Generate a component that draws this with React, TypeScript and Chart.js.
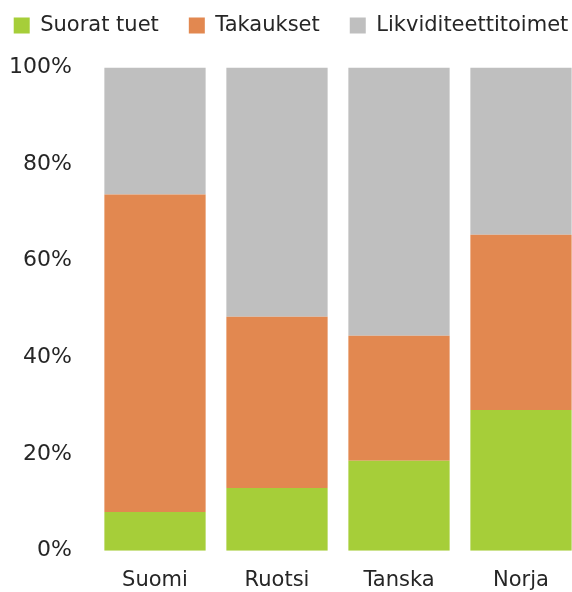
import React, { useEffect, useRef } from 'react';
import { Chart, registerables } from 'chart.js';

Chart.register(...registerables);

const categories = ['Suomi', 'Ruotsi', 'Tanska', 'Norja'];
const seriesNames = ['Suorat tuet', 'Takaukset', 'Likviditeettitoimet'];
const suoratTuet = [8.0, 13.0, 18.6, 29.1];
const takaukset = [65.7, 35.4, 25.9, 36.3];
const likviditeettitoimet = [26.3, 51.6, 55.5, 34.6];
const seriesColors = ['#A6CE39', '#E28850', '#BFBFBF'];
const yTickStep = 20;
const yMax = 100;

const FONT = 'DejaVu Sans';
const TEXT = '#262626';

export default function App() {
  const ref = useRef<HTMLCanvasElement | null>(null);

  useEffect(() => {
    if (!ref.current) return;
    const legendPatch = {
      id: 'legendPatch',
      beforeInit(chart: any) {
        const lg = chart.legend;
        if (!lg) return;
        const origFit = lg.fit;
        lg.fit = function () {
          const mw = this.maxWidth;
          this.maxWidth = 2000;
          origFit.call(this);
          this.maxWidth = mw;
          this.width = mw;
          this.height = 82.5;
        };
        const origDraw = lg.draw;
        lg.draw = function () {
          const l = this.left;
          const r = this.right;
          this.left = l - 100;
          this.right = r + 100;
          origDraw.call(this);
          this.left = l;
          this.right = r;
        };
      },
    };
    const chart = new Chart(ref.current, {
      type: 'bar',
      data: {
        labels: categories,
        datasets: [
          { label: seriesNames[0], data: suoratTuet, backgroundColor: seriesColors[0], borderWidth: 0 },
          { label: seriesNames[1], data: takaukset, backgroundColor: seriesColors[1], borderWidth: 0 },
          { label: seriesNames[2], data: likviditeettitoimet, backgroundColor: seriesColors[2], borderWidth: 0 },
        ],
      },
      options: {
        responsive: false,
        animation: false,
        layout: { padding: { top: -15, left: 0, right: 0, bottom: 0 } },
        datasets: { bar: { categoryPercentage: 1, barPercentage: 0.83 } },
        plugins: {
          tooltip: { enabled: false },
          legend: {
            position: 'top',
            labels: {
              boxWidth: 16,
              boxHeight: 16,
              padding: 30,
              color: TEXT,
              font: { family: FONT, size: 21 },
            },
          },
        },
        scales: {
          x: {
            stacked: true,
            grid: { display: false, drawTicks: false },
            border: { display: false },
            ticks: { color: TEXT, font: { family: FONT, size: 21 }, padding: 17 },
            afterFit(scale: any) { scale.height = 41.3; },
          },
          y: {
            stacked: true,
            min: 0,
            max: yMax,
            grid: { display: false, drawTicks: false },
            border: { display: false },
            ticks: {
              stepSize: yTickStep,
              color: TEXT,
              font: { family: FONT, size: 22 },
              padding: 22,
              callback: (v: any) => v + '%',
            },
            afterFit(scale: any) { scale.width = 94; },
          },
        },
      },
      plugins: [legendPatch],
    });
    return () => chart.destroy();
  }, []);

  return (
    <div style={{ position: 'absolute', left: 0, top: 0, width: 572, height: 592, overflow: 'hidden', background: '#fff' }}>
      <canvas ref={ref} width={582} height={592} style={{ display: 'block' }} />
    </div>
  );
}
